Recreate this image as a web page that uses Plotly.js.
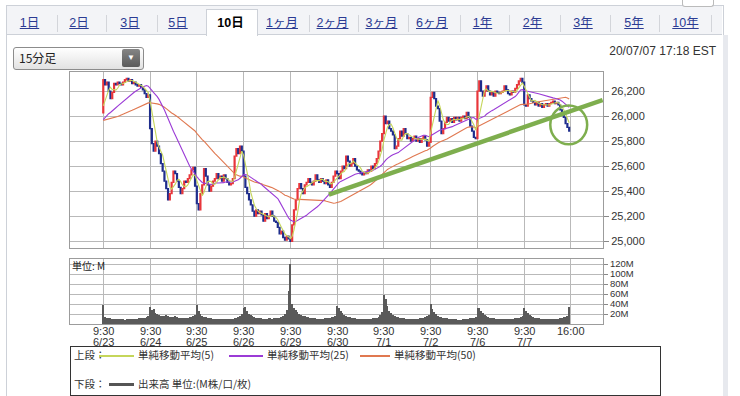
<!DOCTYPE html>
<html><head><meta charset="utf-8">
<script src="https://cdn.plot.ly/plotly-3.0.1.min.js"></script>
<style>
body{margin:0;width:740px;height:396px;overflow:hidden;background:#fff;font-family:"Liberation Sans",Arial,"Noto Sans CJK JP",sans-serif;}
.abs{position:absolute;}
.tab{position:absolute;top:15px;width:60px;text-align:center;font-size:12.5px;line-height:16px;color:#2b3b93;text-decoration:underline;font-family:"Liberation Sans","Noto Sans CJK JP",sans-serif;}
.sep{position:absolute;top:15px;width:1px;height:17px;background:#d3d5da;}
.lg{position:absolute;font-size:10.5px;line-height:14px;color:#333;font-family:"Noto Sans CJK JP",sans-serif;white-space:nowrap;}
.ln{position:absolute;height:1.5px;}
</style></head>
<body>
<div class="abs" style="left:6px;top:5px;width:716px;height:400px;border:1px solid #cdd1d8;border-bottom:none;background:#fff"></div>
<div class="abs" style="left:7px;top:6px;width:715px;height:28px;background:#f3f4f7;border-bottom:1px solid #cdd1d8"></div>
<div class="abs" style="left:723px;top:35px;width:5px;height:361px;background:#e7e9ee"></div>
<div class="abs" style="left:682px;top:-1px;width:30px;height:7px;border:1px solid #bbb;border-top:none;border-radius:0 0 3px 3px;background:#fff"></div>
<div id="plot" class="abs" style="left:0;top:0;width:740px;height:396px"></div>
<div class="abs" style="left:206px;top:9px;width:50px;height:26px;background:#fff;border:1px solid #cdd1d8;border-bottom:none"></div>
<div id="tabs"></div>
<div class="abs" style="left:13px;top:47px;width:129px;height:21px;border:1px solid #8c8c8c;border-radius:3px;background:linear-gradient(#ffffff,#e2e2e2);"></div>
<div class="abs" style="left:19px;top:47px;font-size:12px;line-height:22px;color:#222;font-family:'Noto Sans CJK JP',sans-serif">15分足</div>
<div class="abs" style="left:122px;top:49px;width:18px;height:18px;border-radius:2px;background:linear-gradient(#858585,#5a5a5a);color:#fff;font-size:8px;line-height:18px;text-align:center">▼</div>
<div class="abs" style="right:24px;top:44px;font-size:12px;color:#333;font-family:'Liberation Sans',Arial,sans-serif">20/07/07 17:18 EST</div>
<div class="abs" style="left:72px;top:258px;font-size:10px;color:#222;font-family:'Noto Sans CJK JP',sans-serif">単位: M</div>
<div class="abs" style="left:70px;top:346px;width:589px;height:48px;border:1px solid #333;background:#fff">
  <div class="lg" style="left:3px;top:1px">上段：</div>
  <div class="ln" style="left:28px;top:8px;width:35px;background:#c5d65a"></div>
  <div class="lg" style="left:67px;top:1px">単純移動平均(5)</div>
  <div class="ln" style="left:158px;top:8px;width:34px;background:#9b3bd6"></div>
  <div class="lg" style="left:196px;top:1px">単純移動平均(25)</div>
  <div class="ln" style="left:289px;top:8px;width:30px;background:#e07850"></div>
  <div class="lg" style="left:323px;top:1px">単純移動平均(50)</div>
  <div class="lg" style="left:3px;top:30px">下段：</div>
  <div class="ln" style="left:38px;top:36px;width:25px;height:3px;background:#555"></div>
  <div class="lg" style="left:67px;top:30px">出来高 単位:(M株/口/枚)</div>
</div>
<script>
// ---- data ----
var tabLabels = ['1日','2日','3日','5日','10日','1ヶ月','2ヶ月','3ヶ月','6ヶ月','1年','2年','3年','5年','10年'];
var dayTimeLabels = ['9:30','9:30','9:30','9:30','9:30','9:30','9:30','9:30','9:30','9:30','16:00'];
var dayDateLabels = ['6/23','6/24','6/25','6/26','6/29','6/30','7/1','7/2','7/6','7/7',''];
var dayTickIndex = [0,26,52,78,104,130,156,182,208,234,260];

// closes before 6/23 (seed for moving averages)
var preCloses = [26080,26060,26050,26040,26020,26030,26010,25990,26000,25980,25970,25990,25960,25950,25940,25960,25930,25920,25900,25880,25890,25860,25870,
 25880,25850,25820,25840,25870,25900,25920,25900,25930,25950,25940,25960,25970,25950,25980,25990,25970,25990,26000,25980,26000,26010,26020,26030,26040,26025];
// 15-minute closes, one array per session
var close0623 = [26290,26250,26270,26200,26140,26190,26260,26250,26270,26260,26250,26270,26290,26300,26280,26290,26260,26270,26250,26240,26250,26230,26210,26180,26150,26170];
var close0624 = [25900,25780,25720,25800,25760,25700,25620,25560,25480,25420,25330,25380,25470,25560,25540,25480,25430,25380,25420,25480,25470,25500,25530,25570,25590,25440];
var close0625 = [25300,25250,25380,25450,25580,25520,25450,25400,25440,25480,25500,25540,25500,25520,25480,25530,25500,25470,25450,25460,25500,25680,25740,25700,25760,25720];
var close0626 = [25520,25430,25380,25330,25290,25240,25200,25250,25220,25240,25210,25160,25220,25180,25200,25240,25200,25160,25150,25110,25060,25080,25030,25010,25040,25020];
var close0629 = [25000,25130,25250,25330,25420,25460,25420,25380,25450,25470,25500,25470,25450,25480,25530,25490,25470,25500,25480,25460,25490,25450,25430,25470,25520,25560];
var close0630 = [25540,25500,25560,25600,25580,25680,25640,25600,25620,25660,25600,25570,25560,25540,25530,25550,25540,25570,25560,25600,25580,25620,25660,25720,25800,25860];
var close0701 = [26000,25940,25960,25900,25880,25850,25740,25760,25820,25880,25840,25900,25860,25820,25830,25800,25820,25840,25800,25820,25790,25820,25840,25810,25760,25790];
var close0702 = [26150,26190,26140,26080,26060,25960,25860,25900,25950,25990,25960,25980,25950,25990,25970,25990,25960,25990,26000,25980,26030,25990,25920,25880,25830,25820];
var close0706 = [26200,26280,26200,26160,26200,26240,26200,26170,26190,26160,26200,26190,26180,26190,26200,26240,26210,26180,26170,26200,26190,26220,26250,26280,26300,26270];
var close0707 = [26090,26080,26170,26140,26120,26110,26090,26110,26080,26100,26070,26090,26100,26080,26100,26110,26120,26100,26110,26090,26050,26010,25990,25940,25910,25880];
// volume (millions)
var vol0623 = [38,15,13,12,12,11,11,10,10,11,10,10,9,10,10,10,11,11,10,11,12,12,13,13,15,17];
var vol0624 = [35,28,30,22,20,18,17,16,17,18,16,15,14,15,16,14,13,12,12,13,13,13,14,15,16,18];
var vol0625 = [38,26,20,17,15,14,13,12,12,11,11,10,10,10,11,10,10,10,10,10,11,12,13,14,16,20];
var vol0626 = [32,35,26,20,18,16,14,13,13,12,12,11,11,11,12,12,11,12,12,13,13,14,16,20,28,67];
var vol0629 = [120,40,33,28,24,21,19,17,16,15,14,13,13,12,12,11,11,11,11,12,12,12,13,14,15,17];
var vol0630 = [37,33,27,22,18,16,15,14,13,12,12,11,11,10,10,10,10,11,11,11,12,12,13,15,18,24];
var vol0701 = [59,50,36,27,22,18,16,15,14,13,12,12,11,11,11,10,10,10,11,11,12,12,13,14,16,19];
var vol0702 = [40,30,24,20,17,15,14,13,12,12,11,11,10,10,10,9,9,9,10,10,11,11,12,12,13,15];
var vol0706 = [33,32,27,22,18,16,14,13,12,12,11,11,10,10,10,10,10,10,10,11,11,12,12,13,14,16];
var vol0707 = [33,27,22,18,16,14,13,12,12,11,11,10,10,10,10,10,10,11,11,11,12,13,14,15,17,35];
// hand-drawn annotations (bar index, price)
var trendX = [125.4, 277.6];
var trendY = [25373, 26128];
var circleX = [248.5, 269.0];
var circleY = [25775, 26085];

// ---- build ----
var closes = [].concat(close0623,close0624,close0625,close0626,close0629,close0630,close0701,close0702,close0706,close0707);
var vols = [].concat(vol0623,vol0624,vol0625,vol0626,vol0629,vol0630,vol0701,vol0702,vol0706,vol0707);
var idx = closes.map(function(_,i){return i;});
var opens = closes.map(function(c,i){return i===0?preCloses[preCloses.length-1]:closes[i-1];});
var highs = closes.map(function(c,i){return Math.max(c,opens[i]);});
var lows = closes.map(function(c,i){return Math.min(c,opens[i]);});
var full = preCloses.concat(closes);
function sma(n){
  return closes.map(function(_,i){
    var e=i+preCloses.length, s=0;
    for(var k=e-n+1;k<=e;k++) s+=full[k];
    return s/n;
  });
}
// tabs
var tabCenters=[29.5,79,130,178,230.5,282,332.5,381.5,432,482.5,532.5,583,634,685.5];
var sepX=[57,106,157,309,358,408,460,509,560,610,659,711];
var th='';
tabLabels.forEach(function(t,i){
  var act = (t==='10日');
  th+='<div class="tab" style="left:'+(tabCenters[i]-30)+'px;'+(act?'color:#000;font-weight:bold;text-decoration:none;':'')+'">'+t+'</div>';
});
sepX.forEach(function(x){th+='<div class="sep" style="left:'+x+'px"></div>';});
document.getElementById('tabs').innerHTML=th;

var W=740,H=396;
function px2fx(p){return p/W;} function py2fy(p){return 1-p/H;}
var grid='#b9b9b9', frame='#9c9c9c';
var fontTick={family:'"Liberation Sans", Arial, sans-serif',size:11,color:'#333'};

var traces=[
 {type:'candlestick',x:idx,open:opens,high:highs,low:lows,close:closes,xaxis:'x',yaxis:'y',
  increasing:{line:{color:'#e8363b',width:1.3},fillcolor:'#e8363b'},
  decreasing:{line:{color:'#1e2d8c',width:1.3},fillcolor:'#1e2d8c'},whiskerwidth:0,hoverinfo:'skip'},
 {type:'scatter',mode:'lines',x:idx,y:sma(50),line:{color:'#e07850',width:1.1},xaxis:'x',yaxis:'y',hoverinfo:'skip'},
 {type:'scatter',mode:'lines',x:idx,y:sma(25),line:{color:'#9b3bd6',width:1.1},xaxis:'x',yaxis:'y',hoverinfo:'skip'},
 {type:'scatter',mode:'lines',x:idx,y:sma(5),line:{color:'#c5d65a',width:1.1},xaxis:'x',yaxis:'y',hoverinfo:'skip'},
 {type:'bar',x:idx,y:vols,width:1,marker:{color:'#5a5a5a',line:{width:0}},xaxis:'x2',yaxis:'y2',hoverinfo:'skip'}
];

var annotations=[];
dayTickIndex.forEach(function(t,i){
  annotations.push({xref:'x2',yref:'paper',x:t,y:py2fy(331),text:dayTimeLabels[i],showarrow:false,xanchor:'center',yanchor:'middle',font:fontTick});
  if(dayDateLabels[i]) annotations.push({xref:'x2',yref:'paper',x:t,y:py2fy(341.5),text:dayDateLabels[i],showarrow:false,xanchor:'center',yanchor:'middle',font:fontTick});
});

var volTicks=[20,40,60,80,100,120];
var layout={
 width:W,height:H,margin:{l:0,r:0,t:0,b:0},paper_bgcolor:'rgba(0,0,0,0)',plot_bgcolor:'#fff',showlegend:false,
 xaxis:{domain:[px2fx(70),px2fx(603)],anchor:'y',range:[-18.5,277.8],tickmode:'array',tickvals:dayTickIndex,showticklabels:false,
   showgrid:true,gridcolor:grid,gridwidth:1,zeroline:false,showline:true,mirror:true,linecolor:frame,ticks:'',rangeslider:{visible:false},fixedrange:true},
 yaxis:{domain:[py2fy(248),py2fy(72)],anchor:'x',range:[24946,26352],side:'right',tick0:0,dtick:200,tickformat:',d',
   showgrid:true,gridcolor:grid,zeroline:false,showline:true,mirror:true,linecolor:frame,ticks:'outside',ticklen:5,tickcolor:'#888',tickfont:fontTick},
 xaxis2:{domain:[px2fx(70),px2fx(603)],anchor:'y2',range:[-18.5,277.8],tickmode:'array',tickvals:dayTickIndex,showticklabels:false,
   showgrid:true,gridcolor:grid,zeroline:false,showline:true,mirror:true,linecolor:frame,ticks:''},
 yaxis2:{domain:[py2fy(324),py2fy(259)],anchor:'x2',range:[0,130],side:'right',tickmode:'array',tickvals:volTicks,
   ticktext:volTicks.map(function(v){return v+'M';}),showgrid:true,gridcolor:grid,zeroline:false,showline:true,mirror:true,linecolor:frame,
   ticks:'outside',ticklen:4,tickcolor:'#888',tickfont:{family:'"Liberation Sans", Arial, sans-serif',size:9.5,color:'#333'}},
 bargap:0,
 annotations:annotations,
 shapes:[
  {type:'line',xref:'x',yref:'y',x0:trendX[0],y0:trendY[0],x1:trendX[1],y1:trendY[1],line:{color:'#7eae4e',width:4.5},layer:'above'},
  {type:'circle',xref:'x',yref:'y',x0:circleX[0],y0:circleY[0],x1:circleX[1],y1:circleY[1],line:{color:'#7eae4e',width:2.5},layer:'above'}
 ]
};
Plotly.newPlot('plot',traces,layout,{displayModeBar:false,staticPlot:true});
</script>
</body></html>
